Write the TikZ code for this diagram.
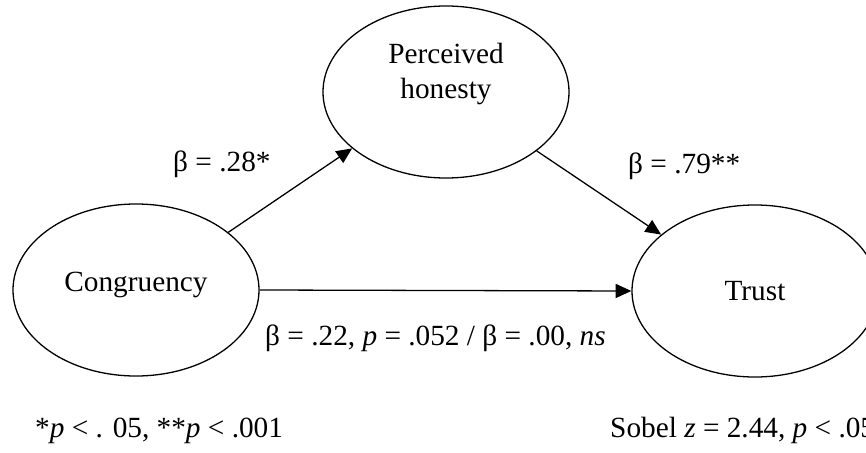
\documentclass[tikz,border=0pt]{standalone}
\usepackage{fontspec}
\setmainfont{Liberation Serif}
\usetikzlibrary{arrows.meta,positioning,shapes.geometric}
\tikzset{
construct/.style={draw,ellipse,line width=1.1pt,minimum width=7.38cm,minimum height=5.16cm,inner sep=0pt,align=center,font=\fontsize{25}{30.5}\selectfont},
coef/.style={inner sep=0pt,font=\fontsize{25}{30.5}\selectfont},
effect/.style={-{Triangle[length=0.47cm,width=0.42cm]},line width=1.1pt}
}
\begin{document}
\begin{tikzpicture}[x=0.03cm,y=-0.03cm]
\useasboundingbox(0,0)rectangle(866,453);
\node[construct,text depth=0.5cm](cong)at(136,290){Congruency};
\node[construct,text depth=1.27cm](hon)at(446,92){Perceived\\honesty};
\node[construct](trust)at(755,291){Trust};
\draw[effect](cong.32)--(hon.211);\draw[effect](hon.327)--(trust.149);\draw[effect](cong.east)--(trust.west);
\node[coef,anchor=base west](a)at(173,172){β = .28*};
\node[coef,anchor=base west](b)at(628,173){β = .79**};
\node[coef,anchor=base west](c)at(265,345){β = .22, \textit{p} = .052 / β = .00, \textit{ns}};
\node[coef,anchor=base west](sig)at(35,437){*\textit{p} < . 05, **\textit{p} < .001};
\node[coef,anchor=base west](sobel)at(610,437){Sobel \textit{z} = 2.44, \textit{p} < .05};
\end{tikzpicture}
\end{document}
